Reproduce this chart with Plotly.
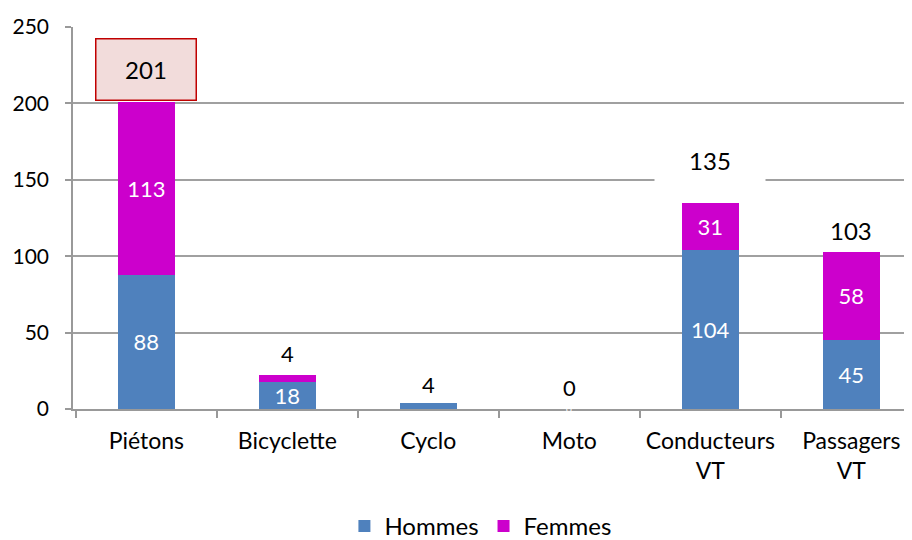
import plotly.graph_objects as go

categories = ["Piétons", "Bicyclette", "Cyclo", "Moto", "Conducteurs<br>VT", "Passagers<br>VT"]
hommes = [88, 18, 4, 0, 104, 45]
femmes = [113, 4, 0, 0, 31, 58]
totals = [h + f for h, f in zip(hommes, femmes)]
y_ticks = [0, 50, 100, 150, 200, 250]

FONT = "Lato, Carlito, Calibri, sans-serif"
BLUE = "#4F81BD"
MAG = "#CC00CC"
FS = 22

fig = go.Figure()
fig.add_trace(go.Bar(
    x=categories, y=hommes, name="Hommes", marker=dict(color=BLUE, line=dict(width=0)),
    text=[str(v) if v >= 10 else "" for v in hommes], textposition="inside", textangle=0,
    constraintext="none", insidetextanchor="middle",
    textfont=dict(color="white", size=FS, family=FONT), width=0.4,
))
fig.add_trace(go.Bar(
    x=categories, y=femmes, name="Femmes", marker=dict(color=MAG, line=dict(width=0)),
    text=[str(v) if v >= 10 else "" for v in femmes], textposition="inside", textangle=0,
    constraintext="none", insidetextanchor="middle",
    textfont=dict(color="white", size=FS, family=FONT), width=0.4,
))

ann = []
ann.append(dict(x=categories[0], y=totals[0] + 21, text=str(totals[0]), showarrow=False,
                font=dict(size=24, color="black", family=FONT), bgcolor="#F2DCDB",
                bordercolor="#C00000", borderwidth=1.5, width=97, height=58))
ann.append(dict(x=categories[1], y=totals[1] + 14, text=str(femmes[1]), showarrow=False,
                font=dict(size=FS, color="black", family=FONT)))
ann.append(dict(x=categories[2], y=totals[2] + 12, text=str(hommes[2]), showarrow=False,
                font=dict(size=FS, color="black", family=FONT)))
ann.append(dict(x=categories[3], y=totals[3] + 14, text=str(totals[3]), showarrow=False,
                font=dict(size=FS, color="black", family=FONT)))
ann.append(dict(x=categories[3], y=0, text=str(hommes[3]), showarrow=False,
                font=dict(size=10, color="white", family=FONT)))
ann.append(dict(x=categories[4], y=totals[4] + 28, text=str(totals[4]), showarrow=False,
                font=dict(size=24, color="black", family=FONT), bgcolor="white",
                width=108, height=40))
ann.append(dict(x=categories[5], y=totals[5] + 14, text=str(totals[5]), showarrow=False,
                font=dict(size=24, color="black", family=FONT)))

fig.update_layout(
    barmode="stack",
    width=912, height=540,
    margin=dict(l=65, r=8, t=19, b=139, autoexpand=False),
    paper_bgcolor="white", plot_bgcolor="white",
    font=dict(family=FONT, size=FS, color="black"),
    showlegend=True,
    legend=dict(orientation="h", x=0.518, xanchor="center", xref="container",
                y=0.04, yanchor="middle", yref="container",
                font=dict(size=24, family=FONT), traceorder="normal"),
    annotations=ann,
    xaxis=dict(
        type="category", range=[-0.52, 5.43], showgrid=False,
        showline=True, linecolor="#999999", linewidth=1.5,
        ticks="outside", tickson="boundaries", ticklen=7, tickcolor="#999999", tickwidth=1.5,
        ticklabelstandoff=11, tickangle=0,
        tickfont=dict(size=23, family=FONT, color="black"), automargin=False,
    ),
    yaxis=dict(
        range=[0, 250], tickvals=y_ticks, showgrid=True, gridcolor="#A0A0A0", gridwidth=1.5,
        showline=True, linecolor="#999999", linewidth=1.5,
        ticks="outside", ticklen=6, tickcolor="#999999", tickwidth=1.5,
        ticklabelstandoff=12, automargin=False,
        tickfont=dict(size=21, family=FONT, color="black"), zeroline=False,
    ),
)

fig.write_html("out.html")
